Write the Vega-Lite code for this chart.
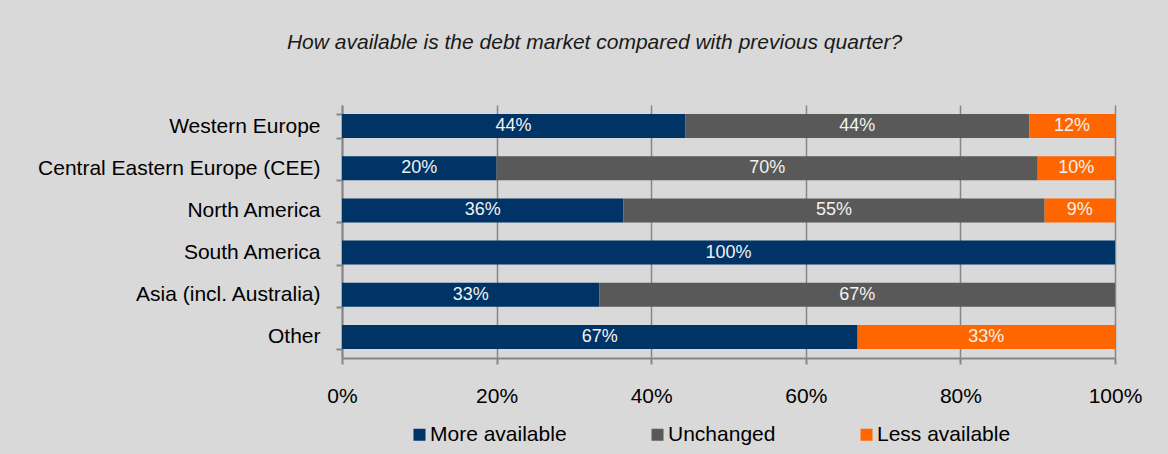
{
  "$schema": "https://vega.github.io/schema/vega-lite/v6.json",
  "width": 773,
  "height": 253,
  "autosize": {"type": "none"},
  "padding": {"left": 342, "top": 105, "right": 53, "bottom": 96},
  "background": "#d9d9d9",
  "config": {
    "view": {"stroke": null},
    "font": "Liberation Sans"
  },
  "title": {
    "text": "How available is the debt market compared with previous quarter?",
    "font": "Liberation Sans",
    "fontStyle": "italic",
    "fontWeight": "normal",
    "fontSize": 21,
    "color": "#1a1a1a",
    "anchor": "middle",
    "dx": -134,
    "offset": 41
  },
  "data": {
    "values": [
      {"region": "Western Europe", "cat": "More available", "k": 1, "v": 44.4, "label": "44%"},
      {"region": "Western Europe", "cat": "Unchanged", "k": 2, "v": 44.5, "label": "44%"},
      {"region": "Western Europe", "cat": "Less available", "k": 3, "v": 11.1, "label": "12%"},
      {"region": "Central Eastern Europe (CEE)", "cat": "More available", "k": 1, "v": 20, "label": "20%"},
      {"region": "Central Eastern Europe (CEE)", "cat": "Unchanged", "k": 2, "v": 70, "label": "70%"},
      {"region": "Central Eastern Europe (CEE)", "cat": "Less available", "k": 3, "v": 10, "label": "10%"},
      {"region": "North America", "cat": "More available", "k": 1, "v": 36.4, "label": "36%"},
      {"region": "North America", "cat": "Unchanged", "k": 2, "v": 54.5, "label": "55%"},
      {"region": "North America", "cat": "Less available", "k": 3, "v": 9.1, "label": "9%"},
      {"region": "South America", "cat": "More available", "k": 1, "v": 100, "label": "100%"},
      {"region": "Asia (incl. Australia)", "cat": "More available", "k": 1, "v": 33.3, "label": "33%"},
      {"region": "Asia (incl. Australia)", "cat": "Unchanged", "k": 2, "v": 66.7, "label": "67%"},
      {"region": "Other", "cat": "More available", "k": 1, "v": 66.7, "label": "67%"},
      {"region": "Other", "cat": "Less available", "k": 3, "v": 33.3, "label": "33%"}
    ]
  },
  "encoding": {
    "y": {
      "field": "region",
      "type": "nominal",
      "sort": ["Western Europe", "Central Eastern Europe (CEE)", "North America", "South America", "Asia (incl. Australia)", "Other"],
      "title": null,
      "scale": {"paddingInner": 0.43, "paddingOuter": 0.215},
      "axis": {
        "tickBand": "extent",
        "tickSize": 6,
        "tickColor": "#868686",
        "tickWidth": 2,
        "domainColor": "#868686",
        "domainWidth": 2,
        "labelFont": "Liberation Sans",
        "labelFontSize": 21,
        "labelColor": "#000000",
        "labelPadding": 16,
        "labelLimit": 400,
        "grid": false
      }
    },
    "x": {
      "field": "v",
      "type": "quantitative",
      "stack": "zero",
      "title": null,
      "scale": {"domain": [0, 100], "nice": false},
      "axis": {
        "values": [0, 20, 40, 60, 80, 100],
        "labelExpr": "datum.value + '%'",
        "labelFlush": false,
        "tickSize": 6,
        "tickColor": "#868686",
        "tickWidth": 2,
        "domainColor": "#868686",
        "domainWidth": 2,
        "grid": true,
        "gridColor": "#868686",
        "gridWidth": 1.5,
        "gridOpacity": 1,
        "labelFont": "Liberation Sans",
        "labelFontSize": 21,
        "labelColor": "#000000",
        "labelPadding": 21
      }
    },
    "order": {"field": "k", "type": "quantitative"}
  },
  "layer": [
    {
      "mark": {"type": "bar"},
      "encoding": {
        "color": {
          "field": "cat",
          "type": "nominal",
          "sort": ["More available", "Unchanged", "Less available"],
          "scale": {
            "domain": ["More available", "Unchanged", "Less available"],
            "range": ["#003366", "#595959", "#ff6600"]
          },
          "legend": {
            "title": null,
            "orient": "none",
            "direction": "horizontal",
            "legendX": 67,
            "legendY": 319,
            "symbolType": "square",
            "symbolSize": 144,
            "symbolStrokeWidth": 0,
            "symbolOpacity": 1,
            "labelOffset": 0,
            "columnPadding": 80,
            "labelFont": "Liberation Sans",
            "labelFontSize": 21,
            "labelColor": "#000000"
          }
        }
      }
    },
    {
      "mark": {"type": "text", "color": "#f2f2f2", "fontSize": 18, "font": "Liberation Sans", "align": "center", "baseline": "middle"},
      "encoding": {
        "x": {"field": "v", "type": "quantitative", "stack": "zero", "bandPosition": 0.5},
        "text": {"field": "label", "type": "nominal"}
      }
    }
  ]
}
